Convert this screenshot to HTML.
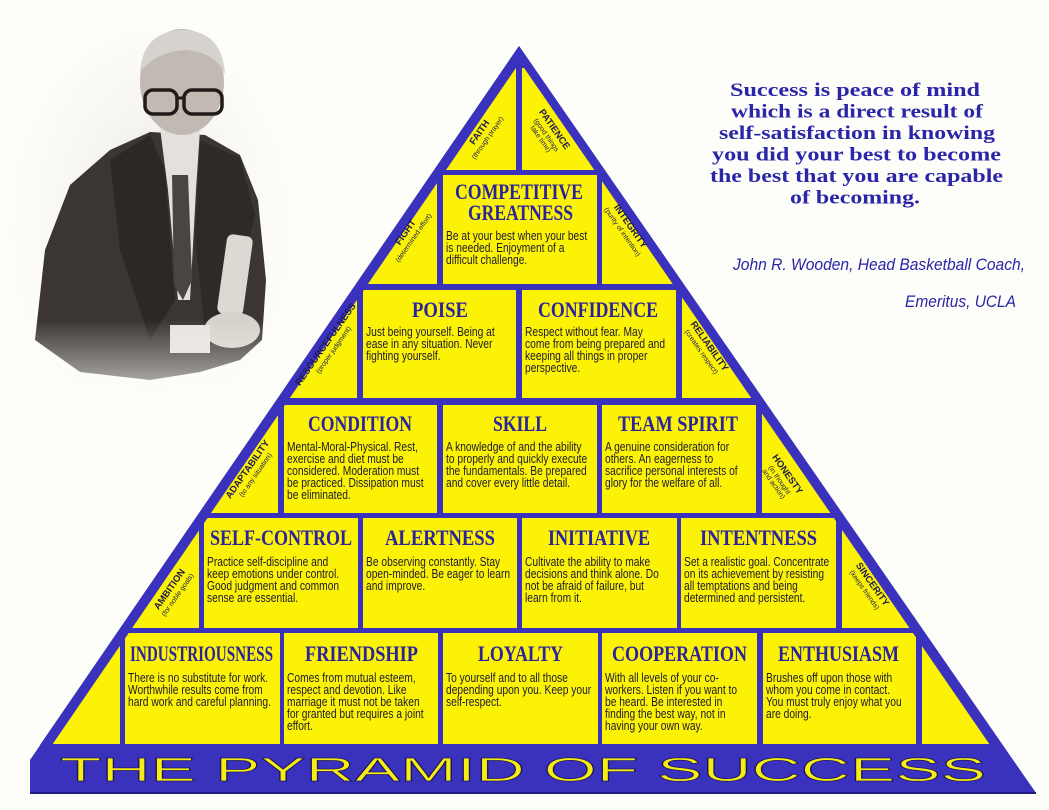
<!DOCTYPE html>
<html><head><meta charset="utf-8">
<style>
html,body{margin:0;padding:0;background:#fdfdf9;}
body{width:1049px;height:810px;overflow:hidden;position:relative;}
svg{position:absolute;left:0;top:0;}
</style></head>
<body>
<svg width="1049" height="810" viewBox="0 0 1049 810" xmlns="http://www.w3.org/2000/svg">
<defs>
<clipPath id="inner"><polygon points="520,62 52,745 990,745"/></clipPath>
<linearGradient id="fade" x1="0" y1="0" x2="0" y2="1">
<stop offset="0" stop-color="#fdfdf9" stop-opacity="0"/>
<stop offset="1" stop-color="#fdfdf9" stop-opacity="1"/>
</linearGradient>
<radialGradient id="bgph" cx="0.5" cy="0.45" r="0.6">
<stop offset="0" stop-color="#e9e6e2"/><stop offset="1" stop-color="#fdfdf9" stop-opacity="0"/>
</radialGradient>
</defs>

<!-- Photo approximation -->
<ellipse cx="150" cy="230" rx="140" ry="200" fill="url(#bgph)"/>
<polygon points="35,340 45,250 70,185 110,150 150,132 205,135 240,155 258,200 266,280 262,340 240,360 200,372 150,380 80,372" fill="#3b3633"/>
<polygon points="110,160 150,135 165,170 175,300 150,340 120,250" fill="#2c2826"/>
<polygon points="200,140 240,158 255,215 235,300 205,330 195,240" fill="#2e2a27"/>
<polygon points="160,128 200,130 196,190 190,300 178,300 168,190" fill="#e4e0dc"/>
<polygon points="172,175 188,175 192,280 183,300 174,285" fill="#4a4540"/>
<ellipse cx="182" cy="82" rx="42" ry="53" fill="#c2bab2"/>
<path d="M140,72 Q143,30 185,30 Q222,32 225,74 Q215,52 185,50 Q155,52 140,72Z" fill="#d6d2cd"/>
<rect x="145" y="90" width="32" height="24" rx="8" fill="none" stroke="#1e1b19" stroke-width="3.5"/>
<rect x="184" y="90" width="38" height="24" rx="8" fill="none" stroke="#1e1b19" stroke-width="3.5"/>
<line x1="177" y1="98" x2="184" y2="98" stroke="#1e1b19" stroke-width="3"/>
<rect x="222" y="235" width="26" height="80" rx="6" fill="#ddd8d2" transform="rotate(8 235 275)"/>
<ellipse cx="232" cy="330" rx="28" ry="18" fill="#d6d1cb"/>
<rect x="170" y="325" width="40" height="28" fill="#e6e2de"/>
<rect x="20" y="320" width="280" height="110" fill="url(#fade)"/>

<!-- Pyramid outer -->
<polygon points="519,46 40,745 30,793 1036,793 1002,745" fill="#3a31bd"/>
<polygon points="519,46 30,760 30,793 1036,793" fill="#3a31bd"/>
<line x1="30" y1="793" x2="1036" y2="793" stroke="#221c80" stroke-width="2"/>

<!-- Yellow rows clipped by inner triangle -->
<g clip-path="url(#inner)" fill="#fbf205">
<rect x="0" y="68" width="516" height="102"/><rect x="522" y="68" width="500" height="102"/>
<rect x="0" y="175" width="437" height="109"/><rect x="443" y="175" width="154" height="109"/><rect x="602" y="175" width="500" height="109"/>
<rect x="0" y="290" width="357" height="108"/><rect x="363" y="290" width="153" height="108"/><rect x="522" y="290" width="154" height="108"/><rect x="682" y="290" width="400" height="108"/>
<rect x="0" y="405" width="278" height="108"/><rect x="284" y="405" width="153" height="108"/><rect x="443" y="405" width="154" height="108"/><rect x="602" y="405" width="154" height="108"/><rect x="762" y="405" width="300" height="108"/>
<rect x="0" y="518" width="199" height="110"/><rect x="204" y="518" width="154" height="110"/><rect x="363" y="518" width="154" height="110"/><rect x="522" y="518" width="155" height="110"/><rect x="681" y="518" width="155" height="110"/><rect x="842" y="518" width="200" height="110"/>
<rect x="0" y="633" width="120" height="111"/><rect x="125" y="633" width="155" height="111"/><rect x="284" y="633" width="154" height="111"/><rect x="443" y="633" width="155" height="111"/><rect x="602" y="633" width="155" height="111"/><rect x="763" y="633" width="153" height="111"/><rect x="922" y="633" width="120" height="111"/>
</g>

<!-- Bottom title -->
<text x="60" y="781" textLength="926" lengthAdjust="spacingAndGlyphs" font-family="Liberation Sans, sans-serif" font-size="33" fill="#f6ee10" stroke="#1c1760" stroke-width="0.7">THE PYRAMID OF SUCCESS</text>

<!-- Titles -->
<g font-family="Liberation Serif, serif" font-weight="bold" font-size="22" fill="#2a239c">
<text x="455" y="199" textLength="128" lengthAdjust="spacingAndGlyphs">COMPETITIVE</text>
<text x="468" y="220" textLength="105" lengthAdjust="spacingAndGlyphs">GREATNESS</text>
<text x="412" y="317" textLength="56" lengthAdjust="spacingAndGlyphs">POISE</text>
<text x="538" y="317" textLength="120" lengthAdjust="spacingAndGlyphs">CONFIDENCE</text>
<text x="308" y="431" textLength="104" lengthAdjust="spacingAndGlyphs">CONDITION</text>
<text x="493" y="431" textLength="54" lengthAdjust="spacingAndGlyphs">SKILL</text>
<text x="618" y="431" textLength="120" lengthAdjust="spacingAndGlyphs">TEAM SPIRIT</text>
<text x="210" y="545" textLength="142" lengthAdjust="spacingAndGlyphs">SELF-CONTROL</text>
<text x="385" y="545" textLength="110" lengthAdjust="spacingAndGlyphs">ALERTNESS</text>
<text x="548" y="545" textLength="102" lengthAdjust="spacingAndGlyphs">INITIATIVE</text>
<text x="700" y="545" textLength="117" lengthAdjust="spacingAndGlyphs">INTENTNESS</text>
<text x="130" y="661" textLength="143" lengthAdjust="spacingAndGlyphs">INDUSTRIOUSNESS</text>
<text x="305" y="661" textLength="113" lengthAdjust="spacingAndGlyphs">FRIENDSHIP</text>
<text x="478" y="661" textLength="85" lengthAdjust="spacingAndGlyphs">LOYALTY</text>
<text x="612" y="661" textLength="135" lengthAdjust="spacingAndGlyphs">COOPERATION</text>
<text x="778" y="661" textLength="121" lengthAdjust="spacingAndGlyphs">ENTHUSIASM</text>
</g>

<!-- Body text -->
<g font-family="Liberation Sans, sans-serif" font-size="12.5" fill="#1d1a33">
<g transform="translate(446,240) scale(0.82,1)"><text y="0">Be at your best when your best</text><text y="12">is needed. Enjoyment of a</text><text y="24">difficult challenge.</text></g>
<g transform="translate(366,336) scale(0.82,1)"><text y="0">Just being yourself. Being at</text><text y="12">ease in any situation. Never</text><text y="24">fighting yourself.</text></g>
<g transform="translate(525,336) scale(0.82,1)"><text y="0">Respect without fear. May</text><text y="12">come from being prepared and</text><text y="24">keeping all things in proper</text><text y="36">perspective.</text></g>
<g transform="translate(287,451) scale(0.82,1)"><text y="0">Mental-Moral-Physical. Rest,</text><text y="12">exercise and diet must be</text><text y="24">considered. Moderation must</text><text y="36">be practiced. Dissipation must</text><text y="48">be eliminated.</text></g>
<g transform="translate(446,451) scale(0.82,1)"><text y="0">A knowledge of and the ability</text><text y="12">to properly and quickly execute</text><text y="24">the fundamentals. Be prepared</text><text y="36">and cover every little detail.</text></g>
<g transform="translate(605,451) scale(0.82,1)"><text y="0">A genuine consideration for</text><text y="12">others. An eagerness to</text><text y="24">sacrifice personal interests of</text><text y="36">glory for the welfare of all.</text></g>
<g transform="translate(207,566) scale(0.82,1)"><text y="0">Practice self-discipline and</text><text y="12">keep emotions under control.</text><text y="24">Good judgment and common</text><text y="36">sense are essential.</text></g>
<g transform="translate(366,566) scale(0.82,1)"><text y="0">Be observing constantly. Stay</text><text y="12">open-minded. Be eager to learn</text><text y="24">and improve.</text></g>
<g transform="translate(525,566) scale(0.82,1)"><text y="0">Cultivate the ability to make</text><text y="12">decisions and think alone. Do</text><text y="24">not be afraid of failure, but</text><text y="36">learn from it.</text></g>
<g transform="translate(684,566) scale(0.82,1)"><text y="0">Set a realistic goal. Concentrate</text><text y="12">on its achievement by resisting</text><text y="24">all temptations and being</text><text y="36">determined and persistent.</text></g>
<g transform="translate(128,682) scale(0.82,1)"><text y="0">There is no substitute for work.</text><text y="12">Worthwhile results come from</text><text y="24">hard work and careful planning.</text></g>
<g transform="translate(287,682) scale(0.82,1)"><text y="0">Comes from mutual esteem,</text><text y="12">respect and devotion. Like</text><text y="24">marriage it must not be taken</text><text y="36">for granted but requires a joint</text><text y="48">effort.</text></g>
<g transform="translate(446,682) scale(0.82,1)"><text y="0">To yourself and to all those</text><text y="12">depending upon you. Keep your</text><text y="24">self-respect.</text></g>
<g transform="translate(605,682) scale(0.82,1)"><text y="0">With all levels of your co-</text><text y="12">workers. Listen if you want to</text><text y="24">be heard. Be interested in</text><text y="36">finding the best way, not in</text><text y="48">having your own way.</text></g>
<g transform="translate(766,682) scale(0.82,1)"><text y="0">Brushes off upon those with</text><text y="12">whom you come in contact.</text><text y="24">You must truly enjoy what you</text><text y="36">are doing.</text></g>
</g>

<!-- Side labels -->
<g font-family="Liberation Sans, sans-serif" fill="#1d1a50" text-anchor="middle">
<g transform="translate(482,134) rotate(-55)"><text font-size="9.5" font-weight="bold">FAITH</text><text y="9" font-size="7">(through prayer)</text></g>
<g transform="translate(552,131) rotate(55)"><text font-size="9.5" font-weight="bold">PATIENCE</text><text y="9" font-size="7">(good things</text><text y="16" font-size="7">take time)</text></g>
<g transform="translate(408,234) rotate(-55)"><text font-size="9.5" font-weight="bold">FIGHT</text><text y="9" font-size="7">(determined effort)</text></g>
<g transform="translate(628,228) rotate(55)"><text font-size="9.5" font-weight="bold">INTEGRITY</text><text y="9" font-size="7">(purity of intention)</text></g>
<g transform="translate(328,346) rotate(-55)"><text font-size="9.5" font-weight="bold">RESOURCEFULNESS</text><text y="9" font-size="7">(proper judgment)</text></g>
<g transform="translate(707,348) rotate(55)"><text font-size="9.5" font-weight="bold">RELIABILITY</text><text y="9" font-size="7">(creates respect)</text></g>
<g transform="translate(250,471) rotate(-55)"><text font-size="9.5" font-weight="bold">ADAPTABILITY</text><text y="9" font-size="7">(to any situation)</text></g>
<g transform="translate(785,476) rotate(55)"><text font-size="9.5" font-weight="bold">HONESTY</text><text y="9" font-size="7">(in thought</text><text y="16" font-size="7">and action)</text></g>
<g transform="translate(172,591) rotate(-55)"><text font-size="9.5" font-weight="bold">AMBITION</text><text y="9" font-size="7">(for noble goals)</text></g>
<g transform="translate(870,586) rotate(55)"><text font-size="9.5" font-weight="bold">SINCERITY</text><text y="9" font-size="7">(keeps friends)</text></g>
</g>

<!-- Quote -->
<g font-family="Liberation Serif, serif" font-weight="bold" font-size="19" fill="#2b25a8">
<text x="730" y="96" textLength="250" lengthAdjust="spacingAndGlyphs">Success is peace of mind</text>
<text x="731" y="117.5" textLength="252" lengthAdjust="spacingAndGlyphs">which is a direct result of</text>
<text x="719" y="139" textLength="276" lengthAdjust="spacingAndGlyphs">self-satisfaction in knowing</text>
<text x="712" y="160.5" textLength="289" lengthAdjust="spacingAndGlyphs">you did your best to become</text>
<text x="710" y="182" textLength="293" lengthAdjust="spacingAndGlyphs">the best that you are capable</text>
<text x="790" y="203.5" textLength="130" lengthAdjust="spacingAndGlyphs">of becoming.</text>
</g>
<g font-family="Liberation Sans, sans-serif" font-style="italic" font-size="17" fill="#2b25a8">
<text x="733" y="270" textLength="292" lengthAdjust="spacingAndGlyphs">John R. Wooden, Head Basketball Coach,</text>
<text x="905" y="307" textLength="111" lengthAdjust="spacingAndGlyphs">Emeritus, UCLA</text>
</g>
</svg>
</body></html>
